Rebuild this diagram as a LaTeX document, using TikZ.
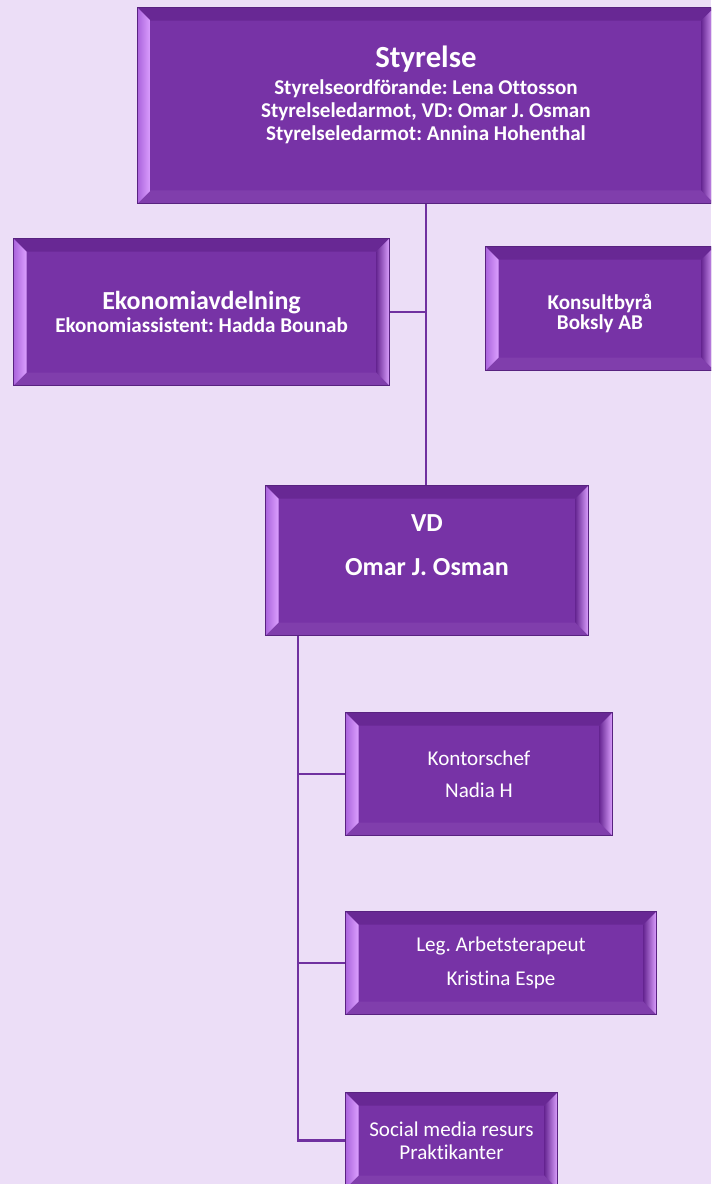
\documentclass[tikz,border=0pt]{standalone}
\usepackage{fontspec}
\setmainfont{Carlito}[Ligatures=NoCommon]
\frenchspacing
\usetikzlibrary{calc}
\definecolor{PaleLilac}{RGB}{236,222,247}
\definecolor{OrgPurple}{RGB}{119,51,166}
\definecolor{EdgePurple}{RGB}{88,34,128}
\definecolor{LinkPurple}{RGB}{112,48,160}
\definecolor{BevelDark}{RGB}{104,40,148}
\definecolor{BevelMid}{RGB}{170,100,220}
\definecolor{BevelLight}{RGB}{220,160,255}
\definecolor{BevelLow}{RGB}{128,62,172}

\tikzset{
    bevel/.style={path picture={
        \coordinate (bsw) at (path picture bounding box.south west);
        \coordinate (bne) at (path picture bounding box.north east);
        \fill[BevelDark] (bsw|-bne) -- (bne) -- ($(bne)+(-13,13)$) -- ($(bsw|-bne)+(13,13)$) -- cycle;
        \fill[BevelLow] (bsw) -- (bne|-bsw) -- ($(bne|-bsw)+(-13,-13)$) -- ($(bsw)+(13,-13)$) -- cycle;
        \shade[left color=BevelMid, right color=BevelLight] (bsw) -- ($(bsw)+(13,-13)$) -- ($(bsw|-bne)+(13,13)$) -- (bsw|-bne) -- cycle;
        \shade[left color=BevelDark, right color=BevelLight] (bne) -- ($(bne)+(-13,13)$) -- ($(bne|-bsw)+(-13,-13)$) -- (bne|-bsw) -- cycle;
    }}
}

\begin{document}
\begin{tikzpicture}[
            x=0.02cm, y=-0.02cm,
            orgbox/.style={rectangle, draw=EdgePurple, line width=0.6pt, fill=OrgPurple, bevel,
                           text=white, align=center, anchor=north west, inner sep=2pt},
            headbox/.style={orgbox, font=\bfseries\fontsize{12}{13}\selectfont},
            staffbox/.style={orgbox, font=\fontsize{12}{18.5}\selectfont},
            link/.style={draw=LinkPurple, line width=1.5pt}
        ]
            \useasboundingbox (0,0) rectangle (711,1184);
            \clip (0,0) rectangle (711,1184);
            \fill[PaleLilac] (0,0) rectangle (711,1184);

            \node[headbox, minimum width=11.54cm, minimum height=3.92cm] (styrelse) at (137,7)
                {{\fontsize{17.5}{20}\selectfont Styrelse}\\[2.7pt] Styrelseordförande: Lena Ottosson\\ Styrelseledarmot, VD: Omar J. Osman\\ Styrelseledarmot: Annina Hohenthal\rule[-14pt]{0pt}{0pt}};
            \node[headbox, minimum width=7.52cm, minimum height=2.94cm] (ekonomi) at (13,238)
                {{\fontsize{14.8}{16}\selectfont Ekonomiavdelning}\\ Ekonomiassistent: Hadda Bounab};
            \node[headbox, font=\bfseries\fontsize{12}{11.5}\selectfont, minimum width=4.58cm, minimum height=2.48cm] (konsult) at (485,246)
                {\rule{0pt}{14pt}Konsultbyrå\\ Boksly AB};
            \node[headbox, font=\bfseries\fontsize{14.8}{25}\selectfont, minimum width=6.46cm, minimum height=3cm] (vd) at (265,485)
                {VD\\ Omar J. Osman\rule[-18pt]{0pt}{0pt}};

            \node[staffbox, minimum width=5.34cm, minimum height=2.46cm] (kontor) at (345,712)
                {Kontorschef\\ Nadia H};
            \node[staffbox, font=\fontsize{12}{19}\selectfont, minimum width=6.22cm, minimum height=2.06cm] (leg) at (345,911)
                {Leg. Arbetsterapeut\\ Kristina Espe};
            \node[staffbox, font=\fontsize{12}{13}\selectfont, minimum width=4.24cm, minimum height=1.92cm] (social) at (345,1092)
                {Social media resurs\\ Praktikanter};

            \coordinate (trunk) at ($(vd.south west)+(33,0)$);

            \draw[link] (styrelse.south) -- (styrelse.south |- vd.north);
            \draw[link] (ekonomi.east) -- (ekonomi.east -| styrelse.south);
            \draw[link] (trunk) |- (social.west);
            \draw[link] (trunk |- kontor.west) -- (kontor.west);
            \draw[link] (trunk |- leg.west) -- (leg.west);
        \end{tikzpicture}
\end{document}
